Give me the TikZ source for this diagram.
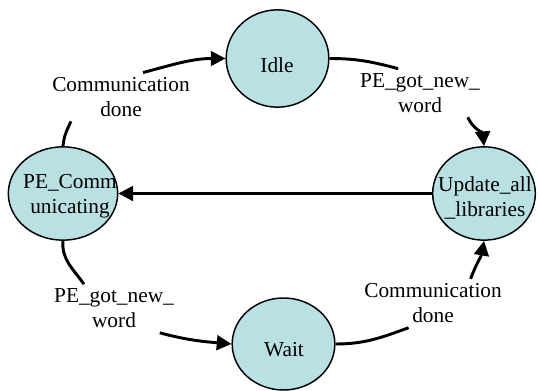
\documentclass[tikz,border=0pt]{standalone}
\usepackage{fontspec}
\setmainfont{Liberation Serif}
\newfontfamily\timesfont{Liberation Serif}
\usepackage{tikz}
\usetikzlibrary{arrows.meta,shapes.geometric}
\definecolor{statefill}{HTML}{B9E0E3}

\begin{document}
\begin{tikzpicture}[x=0.75pt,y=-0.75pt,
  font=\timesfont\fontsize{16}{18.8}\selectfont,
  state/.style={ellipse,draw=black,line width=1.1pt,fill=statefill,inner sep=0pt,
                minimum width=77pt,minimum height=70pt},
  lbl/.style={align=center},
  seg/.style={line width=2.2pt},
  arr/.style={seg,-{Triangle[length=11pt,width=11pt]}}
]
\useasboundingbox (0,0) rectangle (538,391);
% states
\node[state,minimum height=73pt] (idle) at (277.5,58.5) {};
\node[state,minimum width=82pt]  (pec)  at (63,193.5)  {};
\node[state]                     (upd)  at (484,193.5) {};
\node[state,minimum height=69pt] (wait) at (283.5,344)  {};
\node (idle-t) at (277,65)  {Idle};
\node[lbl] (pec-t) at (70,196) {PE\_Comm\\unicating};
\node[lbl] (upd-t) at (485,198) {Update\_all\\\_libraries};
\node (wait-t) at (284,350) {Wait};
% transition labels
\node[lbl] (ul) at (121,97)    {Communication\\done};
\node[lbl] (ur) at (420,93)    {PE\_got\_new\_\\word};
\node[lbl] (ll) at (114,308.5) {PE\_got\_new\_\\word};
\node[lbl] (lr) at (433,303.3) {Communication\\done};
% transitions
\draw[seg] (pec.north) to[out=85,in=-115] (ul.206);
\draw[arr] (ul.48) to[out=15,in=180] (idle.west);
\draw[seg] (idle.east) to[out=0,in=165] (ur.132);
\draw[arr] (ur.-27) to[out=-65,in=95] (upd.north);
\draw[seg] (pec.south) to[out=-95,in=125] (ll.141);
\draw[arr] (ll.-28) to[out=-15,in=175] (wait.west);
\draw[seg] (wait.east) to[out=0,in=200] (lr.225);
\draw[arr] (lr.33) to[out=70,in=-100] (upd.south);
\draw[arr] (upd.west) -- (pec.east);
\end{tikzpicture}
\end{document}
